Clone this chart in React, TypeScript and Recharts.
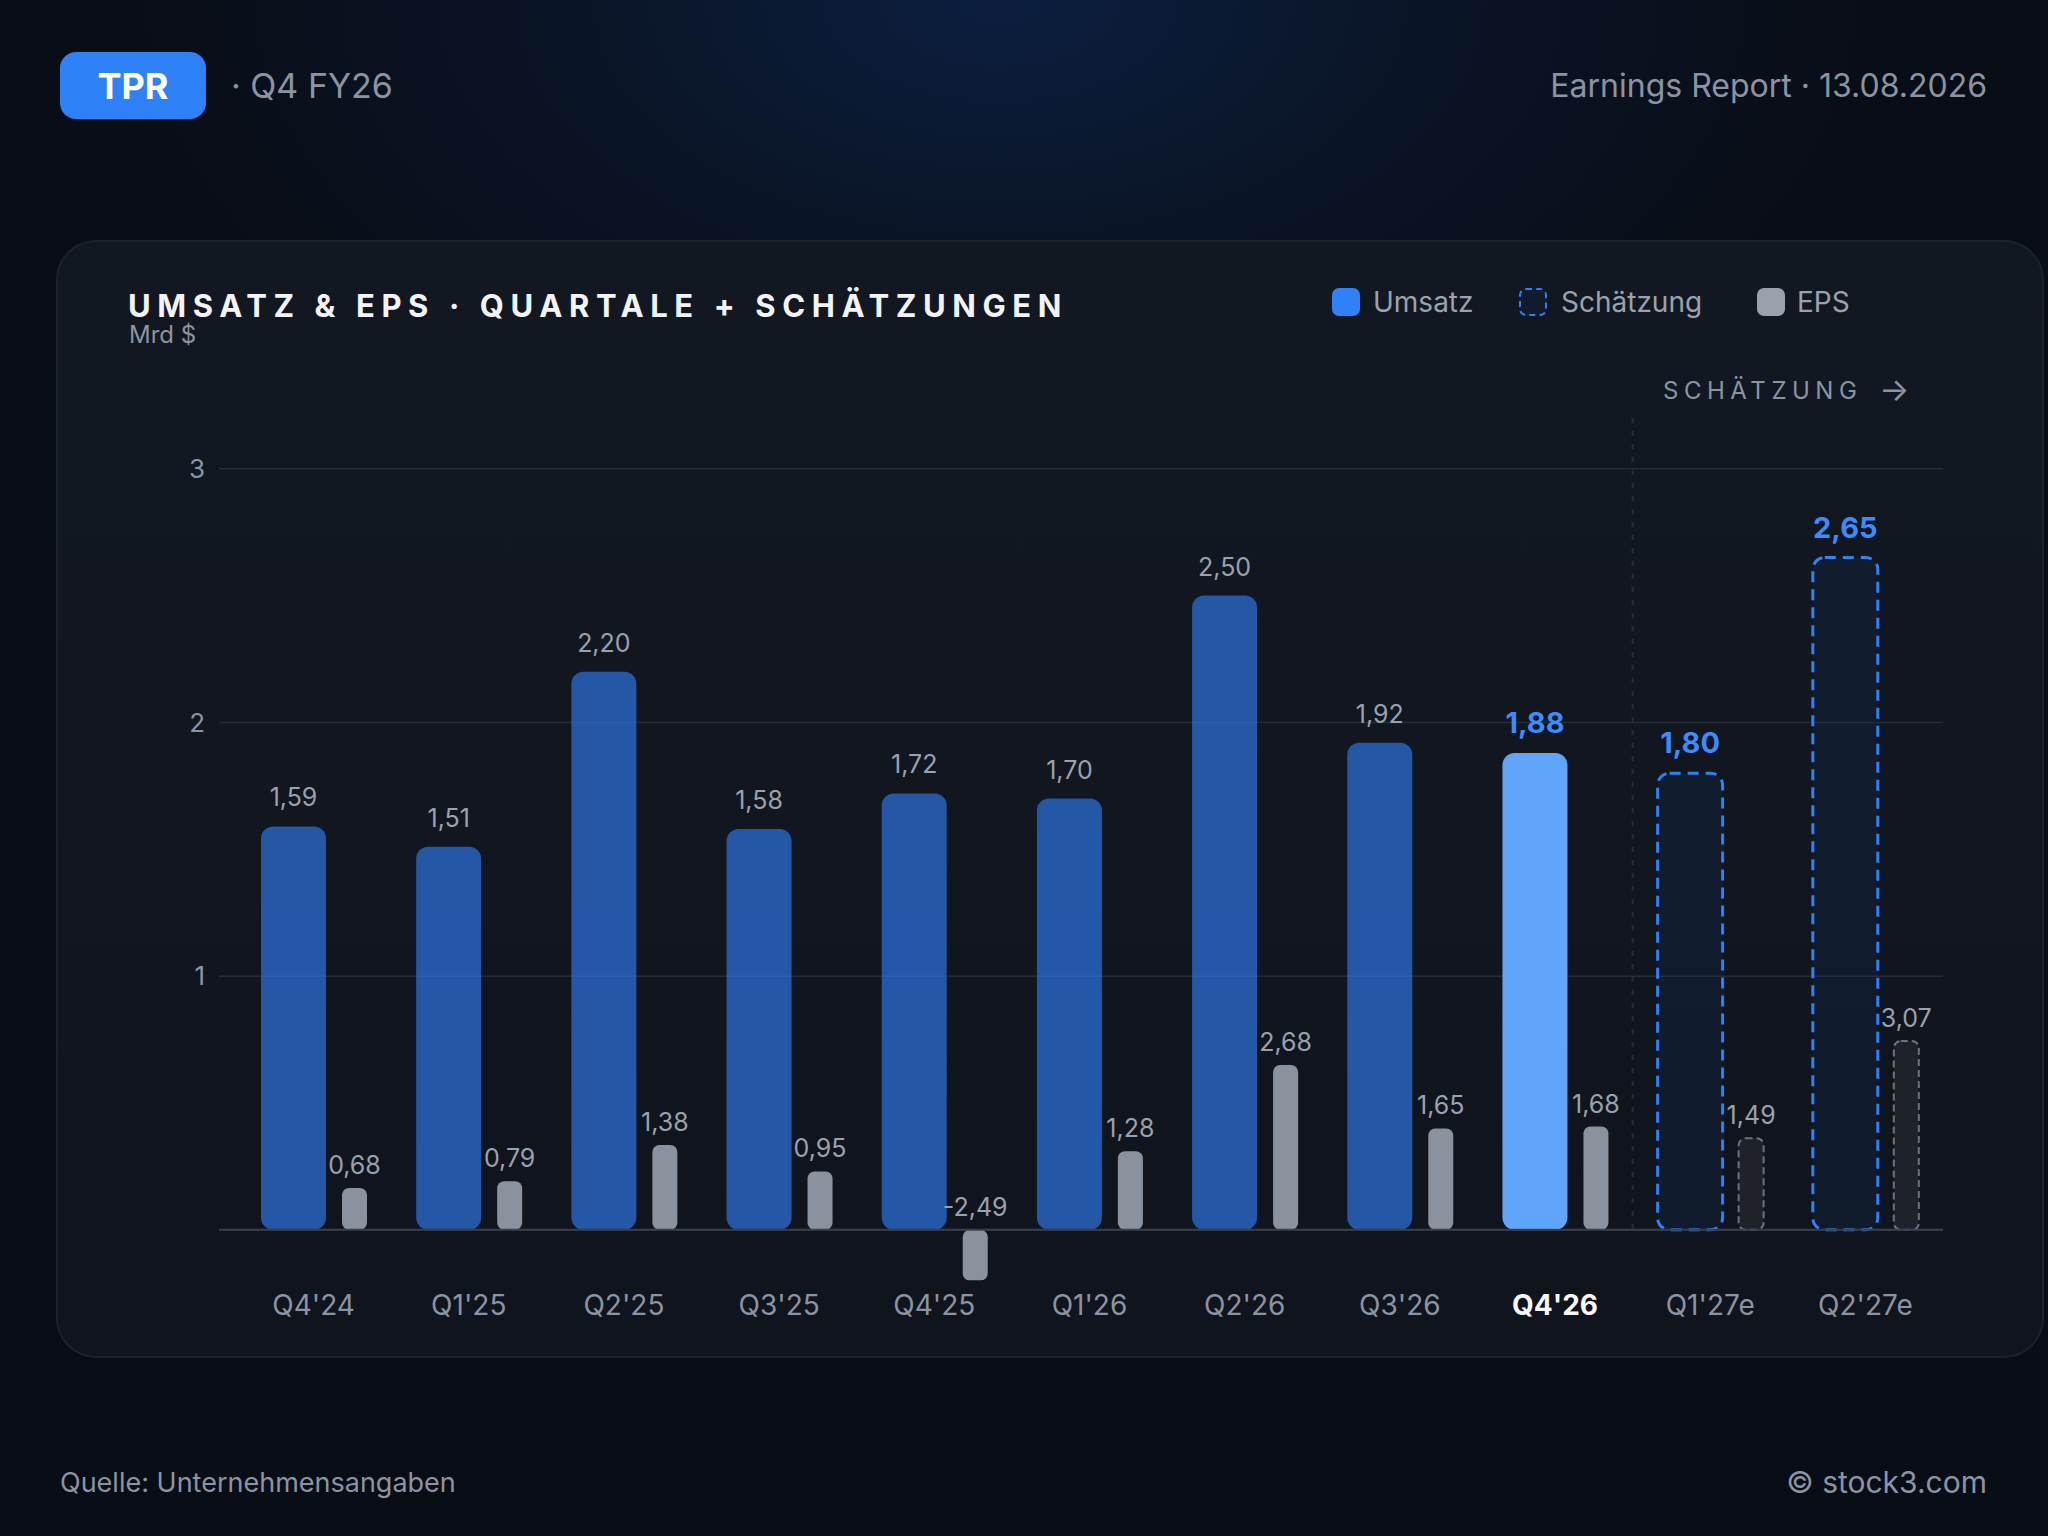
import React from 'react';
import { ComposedChart, Bar, XAxis, YAxis, CartesianGrid, ReferenceLine } from 'recharts';

const quarters = ["Q4'24", "Q1'25", "Q2'25", "Q3'25", "Q4'25", "Q1'26", "Q2'26", "Q3'26", "Q4'26", "Q1'27e", "Q2'27e"];
const revenue = [1.59, 1.51, 2.2, 1.58, 1.72, 1.7, 2.5, 1.92, 1.88, 1.8, 2.65];
const eps = [0.68, 0.79, 1.38, 0.95, -2.49, 1.28, 2.68, 1.65, 1.68, 1.49, 3.07];
const estimateQuarters = ["Q1'27e", "Q2'27e"];
const currentQuarter = "Q4'26";
const revenueTicks = [0, 1, 2, 3];

const REV_DOMAIN: [number, number] = [-0.2, 3.2];
const EPS_DOMAIN: [number, number] = [-0.825, 13.2];

const data = quarters.map((q, i) => ({
  quarter: q,
  revenue: revenue[i],
  eps: eps[i],
  estimate: estimateQuarters.includes(q),
  current: q === currentQuarter,
}));

const GREY = '#8b94a3';
const LABEL = '#9aa2ad';
const BLUE = '#2f81f7';
const HIGHLIGHT = '#3d8bff';

const fmt = (v: number) => v.toFixed(2).replace('.', ',');

const RevenueBar = (props: any) => {
  const { x, y, width, height, payload } = props;
  const top = Math.min(y, y + height);
  const h = Math.abs(height);
  const strong = payload.estimate || payload.current;
  // past quarters are translucent so the grid shows through faintly
  let fill = '#2d74e1';
  let opacity = 0.7;
  if (payload.current) {
    fill = '#60a5fa';
    opacity = 1;
  }
  if (payload.estimate) {
    fill = '#15376f';
    opacity = 0.2;
  }
  return (
    <g>
      <rect x={x} y={top} width={width} height={h} rx={12} ry={12} fill={fill} fillOpacity={opacity} />
      {payload.estimate && (
        <rect
          x={x}
          y={top}
          width={width}
          height={h}
          rx={12}
          ry={12}
          fill="none"
          stroke={BLUE}
          strokeWidth={3}
          strokeDasharray="11 7"
        />
      )}
      <text
        x={x + width / 2}
        y={top - 20}
        textAnchor="middle"
        fontSize={strong ? 29 : 25}
        fontWeight={strong ? 700 : 400}
        fill={strong ? HIGHLIGHT : LABEL}
      >
        {fmt(payload.revenue)}
      </text>
    </g>
  );
};

const EpsBar = (props: any) => {
  const { x, y, width, height, payload, background } = props;
  const top = Math.min(y, y + height);
  let bottom = Math.max(y, y + height);
  // negative EPS runs off the axis, keep it inside the plot
  if (background) bottom = Math.min(bottom, background.y + background.height);
  return (
    <g>
      <rect
        x={x}
        y={top}
        width={width}
        height={bottom - top}
        rx={7}
        ry={7}
        fill={payload.estimate ? '#1f2229' : '#89929d'}
        stroke={payload.estimate ? '#6b7280' : 'none'}
        strokeWidth={payload.estimate ? 2 : 0}
        strokeDasharray={payload.estimate ? '7 4' : undefined}
      />
      <text x={x + width / 2} y={top - 14} textAnchor="middle" fontSize={25} fill={LABEL}>
        {fmt(payload.eps)}
      </text>
    </g>
  );
};

const QuarterTick = (props: any) => {
  const { x, y, payload } = props;
  const isCurrent = payload.value === currentQuarter;
  return (
    <text
      x={x}
      y={y + 34}
      textAnchor="middle"
      fontSize={28}
      fontWeight={isCurrent ? 700 : 400}
      fill={isCurrent ? '#f5f7fa' : GREY}
    >
      {payload.value}
    </text>
  );
};

const DividerLine = (props: any) => {
  const { x1, y1, x2, y2 } = props;
  const top = Math.min(y1, y2);
  const span = Math.abs(y2 - y1);
  const zeroY = top + span * (REV_DOMAIN[1] / (REV_DOMAIN[1] - REV_DOMAIN[0]));
  return <line x1={x1} x2={x2} y1={top} y2={zeroY} stroke="#272d37" strokeWidth={2} strokeDasharray="5 8" />;
};

const LegendItem = ({ left, textLeft, label, box }: { left: number; textLeft: number; label: string; box: React.CSSProperties }) => (
  <>
    <div style={{ position: 'absolute', left, top: 288, width: 28, height: 28, borderRadius: 7, boxSizing: 'border-box', ...box }} />
    <div style={{ position: 'absolute', left: textLeft, top: 288, fontSize: 28, lineHeight: '28px', color: '#9aa2ae' }}>{label}</div>
  </>
);

export default function App() {
  return (
    <div
      style={{
        position: 'absolute',
        left: 0,
        top: 0,
        width: 2048,
        height: 1536,
        overflow: 'hidden',
        fontFamily: 'Inter, "Noto Sans", sans-serif',
        background: 'radial-gradient(ellipse 900px 520px at 1000px 0px, #0c1e3f 0%, #0a1528 45%, #090d15 100%)',
      }}
    >
      {/* header */}
      <div
        style={{
          position: 'absolute',
          left: 60,
          top: 52,
          width: 146,
          height: 67,
          borderRadius: 16,
          background: BLUE,
          color: '#ffffff',
          fontSize: 36,
          fontWeight: 700,
          display: 'flex',
          alignItems: 'center',
          justifyContent: 'center',
        }}
      >
        TPR
      </div>
      <div style={{ position: 'absolute', left: 231, top: 69, fontSize: 34, lineHeight: '34px', color: GREY }}>· Q4 FY26</div>
      <div style={{ position: 'absolute', right: 61, top: 70, fontSize: 32, lineHeight: '32px', color: GREY }}>
        Earnings Report · 13.08.2026
      </div>

      {/* card */}
      <div
        style={{
          position: 'absolute',
          left: 56,
          top: 240,
          width: 1988,
          height: 1118,
          boxSizing: 'border-box',
          borderRadius: 40,
          border: '2px solid #1c222c',
          background: 'linear-gradient(180deg, #121822 0%, #10141c 100%)',
        }}
      />
      <div
        style={{
          position: 'absolute',
          left: 128,
          top: 290,
          fontSize: 31,
          lineHeight: '31px',
          fontWeight: 700,
          letterSpacing: '6.6px',
          color: '#f1f3f7',
          whiteSpace: 'nowrap',
        }}
      >
        UMSATZ &amp; EPS · QUARTALE + SCHÄTZUNGEN
      </div>
      <div style={{ position: 'absolute', left: 129, top: 323, fontSize: 24, lineHeight: '24px', color: GREY }}>Mrd $</div>

      <LegendItem left={1332} textLeft={1373} label="Umsatz" box={{ background: BLUE }} />
      <LegendItem left={1519} textLeft={1561} label="Schätzung" box={{ background: '#111b2d', border: `2px dashed ${BLUE}` }} />
      <LegendItem left={1757} textLeft={1797} label="EPS" box={{ background: '#9aa1ac' }} />

      <div
        style={{
          position: 'absolute',
          left: 1663,
          top: 379,
          fontSize: 24,
          lineHeight: '24px',
          letterSpacing: '0.23em',
          color: GREY,
          whiteSpace: 'nowrap',
        }}
      >
        SCHÄTZUNG
      </div>
      <div style={{ position: 'absolute', left: 1879, top: 374, fontSize: 32, lineHeight: '32px', color: GREY }}>→</div>

      <div style={{ position: 'absolute', left: 0, top: 0 }}>
        <ComposedChart
          width={2048}
          height={1536}
          data={data}
          margin={{ top: 418, right: 105, bottom: 195.4, left: 159 }}
          barGap={16}
        >
          <CartesianGrid vertical={false} horizontalValues={revenueTicks} syncWithTicks stroke="#262c37" strokeWidth={1.5} />
          <XAxis
            dataKey="quarter"
            height={60}
            padding={{ left: 17, right: 0 }}
            axisLine={false}
            tickLine={false}
            tickSize={0}
            tickMargin={0}
            interval={0}
            tick={<QuarterTick />}
          />
          <YAxis
            domain={REV_DOMAIN}
            ticks={revenueTicks}
            width={60}
            axisLine={false}
            tickLine={false}
            tickSize={0}
            tickMargin={14}
            tick={{ fontSize: 26, fill: GREY }}
            tickFormatter={(v: number) => (v === 0 ? '' : String(v))}
          />
          <YAxis yAxisId="eps" orientation="right" hide domain={EPS_DOMAIN} allowDataOverflow />
          <ReferenceLine y={0} stroke="#3a414c" strokeWidth={2} />
          <ReferenceLine x="Q1'27e" position="start" shape={DividerLine} />
          <Bar dataKey="revenue" barSize={65} shape={RevenueBar} isAnimationActive={false} />
          <Bar dataKey="eps" yAxisId="eps" barSize={25} shape={EpsBar} isAnimationActive={false} />
        </ComposedChart>
      </div>

      {/* footer */}
      <div style={{ position: 'absolute', left: 60, top: 1469, fontSize: 27, lineHeight: '27px', color: GREY }}>
        Quelle: Unternehmensangaben
      </div>
      <div style={{ position: 'absolute', right: 61, top: 1467, fontSize: 30, lineHeight: '30px', color: GREY }}>© stock3.com</div>
    </div>
  );
}
